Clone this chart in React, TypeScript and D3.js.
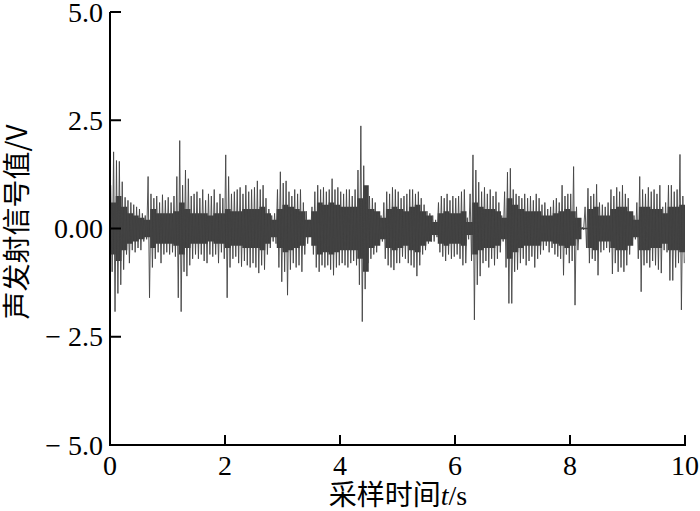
import React from "react";
import * as d3 from "d3";

// Bin width (s): 200 bins of 0.05 s each cover 0–10 s
const binWidth = 0.05;
// Upper extreme of the signal in each 0.05 s bin (V)
const hiValues = [
  1.0, 1.77, 1.57, 1.55, 1.08, 0.72, 0.65, 0.6, 0.55, 0.5,
  0.45, 0.35, 0.3, 1.2, 0.8, 0.7, 0.75, 0.6, 0.78, 0.65,
  0.72, 0.6, 0.75, 1.2, 2.03, 1.0, 1.35, 1.15, 0.75, 0.8,
  0.85, 0.7, 0.9, 0.65, 0.8, 0.75, 0.9, 0.6, 0.8, 0.7,
  1.7, 1.2, 0.8, 0.85, 0.9, 0.95, 0.8, 1.0, 0.85, 0.9,
  0.95, 1.1, 0.9, 1.0, 0.7, 0.45, 0.3, 0.35, 0.9, 1.31,
  1.05, 1.1, 0.85, 0.75, 0.9, 0.8, 0.9, 0.6, 0.4, 0.2,
  0.5, 0.85, 1.0, 0.9, 0.95, 0.85, 0.9, 1.15, 0.9, 0.95,
  0.85, 0.8, 0.9, 0.9, 0.75, 0.9, 1.35, 2.37, 1.45, 0.75,
  0.75, 0.7, 0.6, 0.35, 0.3, 0.6, 0.85, 0.8, 0.95, 0.9,
  0.85, 0.7, 0.75, 0.8, 0.9, 0.9, 0.8, 0.85, 0.7, 0.55,
  0.4, 0.35, 0.3, 0.2, 0.6, 0.75, 0.7, 0.8, 0.65, 0.75,
  0.7, 0.75, 0.85, 0.9, 0.25, 0.8, 1.7, 1.35, 1.07, 0.85,
  0.95, 0.8, 0.9, 0.75, 0.85, 0.6, 0.3, 0.85, 1.3, 1.39,
  0.9, 0.8, 0.75, 0.7, 0.8, 0.7, 0.75, 0.65, 0.8, 0.7,
  0.55, 0.6, 0.45, 0.5, 0.65, 0.7, 0.6, 1.0, 0.75, 0.8,
  0.8, 1.43, 0.5, 0.03, 0.03, 0.5, 0.93, 0.75, 0.8, 1.02,
  0.6, 0.55, 0.5, 0.6, 0.9, 0.75, 0.95, 0.85, 1.0, 0.8,
  0.7, 0.35, 0.3, 0.6, 1.2, 0.9, 0.8, 0.95, 0.85, 0.9,
  0.8, 1.0, 0.5, 0.6, 1.0, 1.0, 0.85, 0.9, 1.71, 0.75,
];
// Lower extreme of the signal in each 0.05 s bin (V)
const loValues = [
  -1.0, -1.92, -1.5, -1.3, -0.95, -0.6, -0.8, -0.5, -0.55, -0.45,
  -0.5, -0.3, -0.25, -1.6, -0.9, -0.7, -0.55, -0.8, -0.6, -0.55,
  -0.6, -0.55, -0.65, -1.6, -1.92, -1.0, -1.1, -0.85, -0.7, -0.6,
  -0.7, -0.6, -0.75, -0.8, -0.6, -0.65, -0.6, -0.8, -0.55, -0.7,
  -1.6, -0.9, -0.7, -0.65, -0.8, -0.88, -0.75, -0.85, -0.9, -0.8,
  -0.9, -1.03, -0.85, -0.95, -0.6, -0.45, -0.3, -0.35, -0.9, -1.23,
  -1.0, -1.54, -0.95, -0.8, -0.9, -0.85, -1.0, -0.6, -0.35, -0.15,
  -0.6, -0.9, -1.0, -0.85, -0.9, -0.85, -0.95, -1.08, -0.9, -0.85,
  -0.8, -0.85, -0.9, -0.8, -0.75, -0.85, -1.3, -2.15, -1.4, -0.8,
  -0.7, -0.6, -0.55, -0.35, -0.3, -0.7, -0.85, -0.9, -0.96, -0.8,
  -0.8, -0.65, -0.7, -0.8, -0.85, -0.9, -1.1, -0.85, -0.6, -0.5,
  -0.35, -0.3, -0.3, -0.2, -0.55, -0.65, -0.75, -0.6, -0.7, -0.65,
  -0.6, -0.7, -0.85, -0.8, -0.25, -0.75, -2.11, -1.3, -1.1, -0.8,
  -0.75, -0.9, -0.7, -0.85, -0.7, -0.55, -0.3, -0.9, -1.73, -1.73,
  -1.0, -0.95, -0.8, -0.7, -0.85, -0.75, -0.65, -0.9, -0.7, -0.6,
  -0.5, -0.4, -0.55, -0.45, -0.6, -0.65, -0.7, -1.08, -0.6, -0.8,
  -0.75, -1.77, -0.5, -0.03, -0.03, -0.45, -0.8, -0.7, -0.75, -1.08,
  -0.55, -0.5, -0.45, -0.55, -1.05, -0.8, -1.0, -0.9, -1.0, -0.85,
  -0.6, -0.3, -0.25, -0.7, -1.46, -0.85, -0.8, -0.9, -0.75, -0.85,
  -0.95, -1.03, -0.5, -0.55, -1.2, -1.2, -0.9, -0.8, -1.88, -0.8,
];
// Half-width of the dense core band, per 0.1 s step (V)
const coreStep = 0.1;
const coreValues = [
  0.6, 0.75, 0.5, 0.35, 0.3, 0.25, 0.2, 0.45, 0.35, 0.35,
  0.35, 0.4, 0.6, 0.45, 0.35, 0.35, 0.35, 0.3, 0.35, 0.35,
  0.45, 0.4, 0.4, 0.45, 0.45, 0.45, 0.5, 0.35, 0.2, 0.45,
  0.55, 0.5, 0.45, 0.4, 0.2, 0.4, 0.6, 0.55, 0.6, 0.55,
  0.5, 0.5, 0.5, 0.7, 1.0, 0.45, 0.4, 0.25, 0.45, 0.5,
  0.45, 0.4, 0.5, 0.55, 0.4, 0.3, 0.15, 0.35, 0.4, 0.35,
  0.35, 0.4, 0.15, 0.6, 0.5, 0.45, 0.45, 0.4, 0.25, 0.7,
  0.55, 0.45, 0.4, 0.4, 0.4, 0.3, 0.3, 0.35, 0.4, 0.45,
  0.4, 0.25, 0.02, 0.45, 0.5, 0.3, 0.3, 0.45, 0.5, 0.5,
  0.4, 0.2, 0.5, 0.5, 0.45, 0.45, 0.35, 0.5, 0.5, 0.55,
];

const xTicks = [0, 2, 4, 6, 8, 10];
const yTicks = [5, 2.5, 0, -2.5, -5];
const yTickLabels = ["5.0", "2.5", "0.00", "\u2212 2.5", "\u2212 5.0"];
const xTitle = "采样时间";
const yTitle = "声发射信号值/V";

const W = 700;
const H = 511;
const left = 110;
const right = 685;
const top = 12;
const bottom = 445;

export default function App() {
  const x = d3.scaleLinear().domain([0, 10]).range([left, right]);
  const y = d3.scaleLinear().domain([-5, 5]).range([bottom, top]);

  const pts: [number, number][] = [];
  hiValues.forEach((h, i) => {
    const t0 = i * binWidth;
    pts.push([t0 + binWidth * 0.25, h]);
    pts.push([t0 + binWidth * 0.75, loValues[i]]);
  });
  const line = d3
    .line<[number, number]>()
    .x((d) => x(d[0]))
    .y((d) => y(d[1]));

  const coreData = coreValues.map((c, i) => ({ t: i * coreStep, c }));
  coreData.push({ t: 10, c: coreValues[coreValues.length - 1] });
  const area = d3
    .area<{ t: number; c: number }>()
    .x((d) => x(d.t))
    .y0((d) => y(-d.c))
    .y1((d) => y(d.c))
    .curve(d3.curveStepAfter);

  const serif = "'Liberation Serif', 'Times New Roman', serif";
  const cjk = "'Noto Sans CJK SC', sans-serif";

  return (
    <div style={{ position: "absolute", left: 0, top: 0 }}>
      <svg width={W} height={H} style={{ display: "block", background: "#fff" }}>
        <path d={area(coreData) || ""} fill="#3f3f3f" />
        <path d={line(pts) || ""} fill="none" stroke="#444" strokeWidth={0.9} />

        {/* axes */}
        <line x1={left} x2={left} y1={top} y2={bottom + 1} stroke="#000" strokeWidth={2} />
        <line x1={left} x2={right + 1} y1={bottom} y2={bottom} stroke="#000" strokeWidth={2} />
        {yTicks.map((v, i) => (
          <g key={"y" + i}>
            <line x1={left} x2={left + 11} y1={y(v)} y2={y(v)} stroke="#000" strokeWidth={2} />
            <text
              x={left - 7}
              y={y(v)}
              dy="0.34em"
              textAnchor="end"
              fontFamily={serif}
              fontSize={28}
              fill="#000"
            >
              {yTickLabels[i]}
            </text>
          </g>
        ))}
        {xTicks.map((v) => (
          <g key={"x" + v}>
            <line x1={x(v)} x2={x(v)} y1={bottom} y2={bottom - 10} stroke="#000" strokeWidth={2} />
            <text
              x={x(v)}
              y={bottom + 30}
              textAnchor="middle"
              fontFamily={serif}
              fontSize={28}
              fill="#000"
            >
              {v}
            </text>
          </g>
        ))}
        <text x={398} y={505} textAnchor="middle" fontSize={28} fill="#000">
          <tspan fontFamily={cjk}>{xTitle}</tspan>
          <tspan fontFamily={serif} fontStyle="italic">t</tspan>
          <tspan fontFamily={serif}>/s</tspan>
        </text>
        <text
          transform={`translate(27,${222}) rotate(-90)`}
          textAnchor="middle"
          fontFamily={cjk}
          fontSize={28}
          fill="#000"
        >
          {yTitle}
        </text>
      </svg>
    </div>
  );
}
